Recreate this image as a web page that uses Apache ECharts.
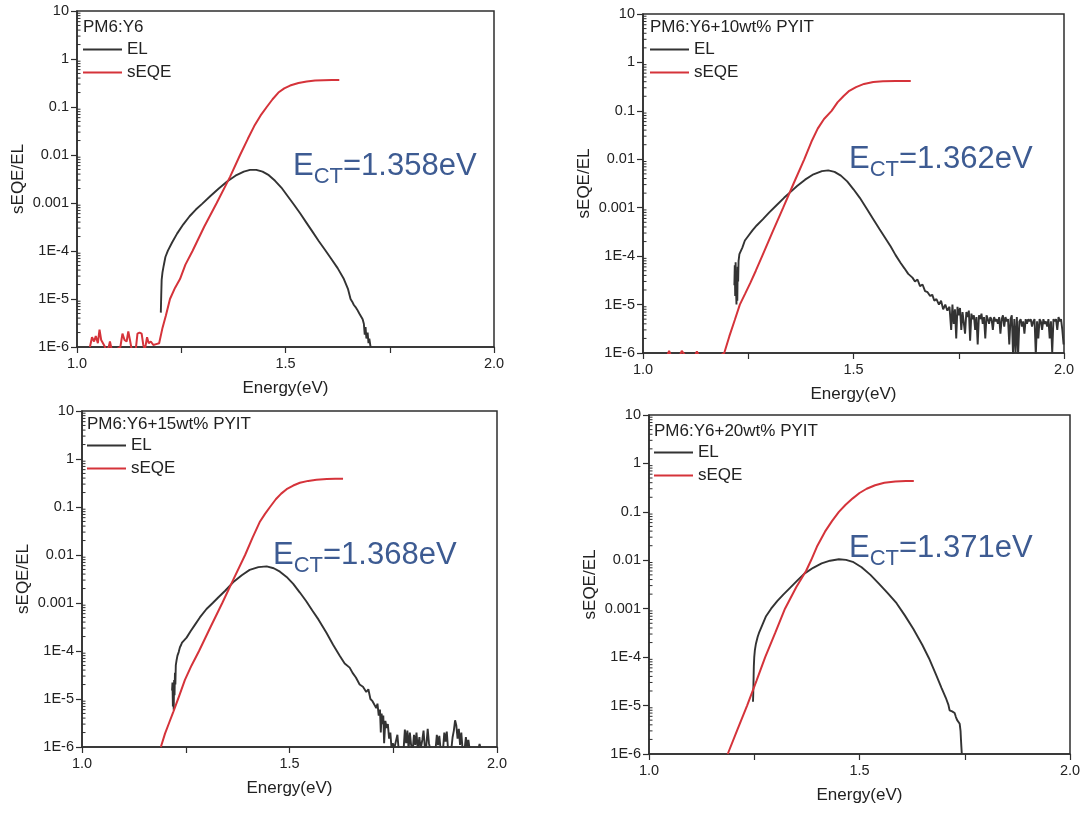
<!DOCTYPE html>
<html>
<head>
<meta charset="utf-8">
<script src="https://cdn.jsdelivr.net/npm/echarts@6/dist/echarts.min.js"></script>
<style>
html,body{margin:0;padding:0;background:#fff;}
#chart{width:1085px;height:813px;}
</style>
</head>
<body>
<div id="chart"></div>
<script>
// ---------------- DATA ----------------
const panelTitles = ['PM6:Y6', 'PM6:Y6+10wt% PYIT', 'PM6:Y6+15wt% PYIT', 'PM6:Y6+20wt% PYIT'];
const ectValues = ['1.358', '1.362', '1.368', '1.371'];
const seriesNames = ['EL', 'sEQE'];
const xTickLabels = ['1.0', '1.5', '2.0'];
const yTickLabels = ['1E-6', '1E-5', '1E-4', '0.001', '0.01', '0.1', '1', '10'];

// Panel 1: PM6:Y6  [energy (eV), value]
const EL_1 = [[1.201,5.2e-6],[1.202,1.2e-5],[1.203,2.5e-5],[1.205,3.6e-5],[1.208,5.0e-5],[1.212,7.5e-5],[1.218,1.02e-4],[1.228,1.5e-4],[1.240,2.3e-4],[1.255,3.6e-4],[1.270,5.3e-4],[1.285,7.3e-4],[1.300,9.6e-4],[1.320,1.4e-3],[1.340,2.0e-3],[1.360,2.8e-3],[1.380,3.7e-3],[1.400,4.5e-3],[1.415,4.9e-3],[1.430,4.9e-3],[1.445,4.5e-3],[1.460,3.8e-3],[1.475,2.9e-3],[1.490,2.1e-3],[1.505,1.4e-3],[1.520,9.3e-4],[1.535,6.1e-4],[1.550,3.9e-4],[1.565,2.5e-4],[1.580,1.6e-4],[1.595,1.05e-4],[1.610,6.8e-5],[1.625,4.4e-5],[1.640,2.6e-5],[1.650,1.6e-5],[1.656,1.0e-5],[1.660,8.8e-6],[1.664,7.5e-6],[1.668,6.8e-6],[1.672,6.0e-6],[1.677,5.0e-6],[1.681,4.6e-6],[1.685,3.8e-6],[1.688,3.0e-6],[1.690,1.8e-6],[1.692,2.6e-6],[1.694,1.5e-6],[1.697,2.0e-6],[1.699,1.2e-6],[1.701,1.5e-6],[1.704,1.0e-6]];
const SEQE_1 = [[1.031,1.0e-6],[1.036,1.6e-6],[1.041,1.3e-6],[1.045,1.7e-6],[1.050,1.2e-6],[1.054,2.3e-6],[1.058,1.4e-6],[1.062,1.5e-6],[1.066,1.05e-6],[1.071,0.8e-6],[1.076,1.0e-6],[1.079,1.3e-6],[1.083,0.9e-6],[1.095,0.9e-6],[1.104,1.0e-6],[1.109,1.9e-6],[1.114,1.4e-6],[1.119,1.3e-6],[1.123,2.1e-6],[1.127,1.4e-6],[1.131,0.9e-6],[1.141,0.9e-6],[1.145,1.9e-6],[1.150,2.0e-6],[1.155,1.9e-6],[1.159,1.1e-6],[1.163,0.9e-6],[1.168,1.6e-6],[1.172,1.2e-6],[1.177,1.3e-6],[1.183,1.1e-6],[1.190,1.15e-6],[1.197,1.2e-6],[1.205,2.5e-6],[1.213,4.5e-6],[1.223,1.0e-5],[1.235,1.7e-5],[1.247,2.6e-5],[1.260,5.2e-5],[1.277,1.0e-4],[1.305,3.2e-4],[1.335,1.0e-3],[1.367,3.5e-3],[1.391,1.0e-2],[1.410,2.2e-2],[1.425,4.0e-2],[1.440,6.6e-2],[1.455,0.10],[1.469,0.145],[1.483,0.20],[1.497,0.245],[1.511,0.28],[1.531,0.315],[1.551,0.34],[1.571,0.355],[1.591,0.362],[1.611,0.366],[1.629,0.365]];

// Panel 2: +10wt% PYIT
const EL_2 = [[1.217,2.5e-5],[1.218,6.5e-5],[1.219,1.5e-5],[1.220,7.5e-5],[1.221,2.0e-5],[1.222,1.0e-5],[1.223,5.0e-5],[1.224,1.2e-5],[1.225,6.0e-5],[1.226,3.0e-5],[1.227,8.0e-5],[1.229,1.1e-4],[1.232,1.2e-4],[1.236,1.5e-4],[1.242,2.1e-4],[1.250,2.6e-4],[1.260,3.4e-4],[1.270,4.3e-4],[1.285,5.8e-4],[1.300,8.0e-4],[1.316,1.1e-3],[1.335,1.6e-3],[1.350,2.1e-3],[1.366,2.8e-3],[1.385,3.8e-3],[1.405,4.9e-3],[1.425,5.7e-3],[1.440,5.9e-3],[1.455,5.5e-3],[1.470,4.6e-3],[1.485,3.5e-3],[1.500,2.4e-3],[1.515,1.6e-3],[1.530,1.0e-3],[1.547,5.8e-4],[1.562,3.6e-4],[1.575,2.4e-4],[1.588,1.6e-4],[1.600,1.05e-4],[1.612,7.2e-5],[1.621,5.6e-5],[1.630,4.3e-5],[1.640,3.6e-5],[1.646,3.0e-5],[1.652,3.3e-5],[1.658,2.4e-5],[1.664,2.6e-5],[1.670,1.9e-5],[1.676,1.8e-5],[1.682,1.5e-5],[1.687,1.6e-5],[1.692,1.2e-5],[1.697,1.3e-5],[1.703,1.0e-5],[1.708,1.2e-5],[1.713,8.0e-6],[1.718,1.0e-5],[1.723,7.5e-6],[1.728,9.0e-6],[1.732,3.0e-6],[1.735,1.0e-5],[1.738,4.0e-6],[1.741,8.0e-6],[1.744,2.0e-6],[1.747,9.0e-6],[1.750,6.0e-6],[1.753,8.5e-6],[1.756,3.0e-6],[1.759,7.0e-6],[1.762,6.5e-6],[1.765,2.5e-6],[1.768,7.0e-6],[1.771,5.5e-6],[1.774,7.5e-6],[1.777,1.8e-6],[1.780,6.5e-6],[1.783,5.0e-6],[1.786,6.0e-6],[1.789,3.0e-6],[1.792,5.5e-6],[1.795,1.5e-6],[1.798,6.0e-6],[1.801,5.0e-6],[1.804,6.5e-6],[1.807,4.0e-6],[1.810,5.5e-6],[1.813,2.0e-6],[1.816,6.0e-6],[1.819,5.0e-6],[1.822,4.0e-6],[1.825,5.5e-6],[1.828,5.0e-6],[1.831,3.0e-6],[1.834,5.5e-6],[1.837,4.5e-6],[1.840,5.0e-6],[1.843,4.0e-6],[1.846,5.5e-6],[1.849,2.5e-6],[1.852,5.0e-6],[1.855,6.0e-6],[1.858,3.5e-6],[1.861,5.5e-6],[1.864,4.5e-6],[1.867,5.0e-6],[1.870,1.5e-6],[1.873,5.0e-6],[1.876,6.0e-6],[1.879,0.9e-6],[1.882,5.0e-6],[1.885,1.0e-6],[1.888,5.5e-6],[1.891,0.9e-6],[1.894,4.5e-6],[1.897,5.0e-6],[1.900,3.5e-6],[1.903,4.5e-6],[1.906,2.5e-6],[1.909,5.0e-6],[1.912,4.0e-6],[1.915,5.0e-6],[1.918,4.5e-6],[1.921,5.0e-6],[1.924,3.5e-6],[1.927,4.5e-6],[1.930,5.0e-6],[1.933,0.9e-6],[1.936,4.5e-6],[1.939,2.0e-6],[1.942,5.0e-6],[1.945,4.5e-6],[1.948,3.0e-6],[1.951,5.0e-6],[1.954,4.0e-6],[1.957,4.5e-6],[1.960,3.5e-6],[1.963,5.0e-6],[1.966,2.0e-6],[1.969,4.5e-6],[1.972,1.0e-6],[1.975,5.0e-6],[1.978,4.5e-6],[1.981,5.0e-6],[1.984,3.0e-6],[1.987,5.5e-6],[1.990,4.5e-6],[1.993,5.0e-6],[1.996,3.0e-6],[1.999,1.5e-6]];
const SEQE_2 = [[1.058,0.9e-6],[1.062,1.1e-6],[1.066,0.9e-6],[1.088,0.9e-6],[1.092,1.1e-6],[1.096,1.12e-6],[1.100,0.9e-6],[1.124,0.9e-6],[1.128,1.08e-6],[1.132,0.9e-6],[1.185,0.9e-6],[1.193,1.0e-6],[1.205,2.2e-6],[1.218,4.8e-6],[1.230,1.0e-5],[1.243,1.7e-5],[1.255,2.8e-5],[1.268,5.0e-5],[1.283,1.0e-4],[1.308,3.2e-4],[1.333,1.0e-3],[1.358,3.2e-3],[1.383,1.0e-2],[1.400,2.3e-2],[1.415,4.3e-2],[1.430,6.8e-2],[1.448,0.10],[1.462,0.15],[1.476,0.20],[1.490,0.26],[1.506,0.31],[1.525,0.36],[1.547,0.395],[1.570,0.41],[1.600,0.415],[1.636,0.415]];

// Panel 3: +15wt% PYIT
const EL_3 = [[1.217,1.5e-5],[1.218,2.2e-5],[1.219,7.0e-6],[1.220,1.8e-5],[1.221,6.0e-6],[1.222,2.5e-5],[1.223,1.2e-5],[1.224,3.5e-5],[1.225,2.0e-5],[1.226,5.0e-5],[1.228,6.5e-5],[1.230,8.0e-5],[1.233,9.5e-5],[1.236,1.2e-4],[1.239,1.35e-4],[1.241,1.5e-4],[1.245,1.6e-4],[1.252,1.9e-4],[1.262,2.6e-4],[1.272,3.5e-4],[1.284,5.0e-4],[1.300,7.5e-4],[1.315,1.0e-3],[1.330,1.35e-3],[1.345,1.8e-3],[1.364,2.7e-3],[1.385,3.8e-3],[1.404,4.9e-3],[1.425,5.6e-3],[1.445,5.8e-3],[1.462,5.3e-3],[1.477,4.5e-3],[1.493,3.5e-3],[1.509,2.5e-3],[1.525,1.65e-3],[1.540,1.1e-3],[1.555,7.0e-4],[1.570,4.5e-4],[1.589,2.4e-4],[1.605,1.35e-4],[1.621,8.0e-5],[1.633,5.5e-5],[1.645,4.5e-5],[1.652,3.5e-5],[1.660,2.8e-5],[1.669,2.0e-5],[1.677,1.8e-5],[1.685,1.4e-5],[1.690,1.6e-5],[1.695,1.0e-5],[1.700,9.0e-6],[1.705,7.5e-6],[1.709,6.5e-6],[1.712,8.0e-6],[1.715,4.5e-6],[1.718,6.0e-6],[1.720,2.0e-6],[1.722,5.0e-6],[1.724,3.0e-6],[1.726,4.5e-6],[1.728,1.2e-6],[1.731,3.5e-6],[1.734,2.5e-6],[1.737,3.0e-6],[1.740,1.5e-6],[1.743,2.0e-6],[1.746,0.9e-6],[1.749,1.2e-6],[1.752,0.9e-6],[1.756,0.9e-6],[1.760,1.8e-6],[1.763,0.9e-6],[1.775,0.9e-6],[1.778,2.3e-6],[1.781,1.2e-6],[1.784,2.2e-6],[1.787,0.9e-6],[1.790,2.0e-6],[1.793,1.1e-6],[1.797,0.9e-6],[1.800,1.8e-6],[1.803,1.1e-6],[1.806,2.0e-6],[1.809,0.9e-6],[1.813,1.6e-6],[1.816,0.9e-6],[1.820,1.4e-6],[1.823,2.2e-6],[1.826,1.0e-6],[1.829,0.9e-6],[1.833,2.4e-6],[1.836,1.2e-6],[1.839,0.9e-6],[1.852,0.9e-6],[1.855,1.8e-6],[1.858,1.1e-6],[1.861,1.7e-6],[1.864,0.9e-6],[1.870,0.9e-6],[1.873,2.0e-6],[1.876,1.3e-6],[1.879,2.1e-6],[1.882,0.9e-6],[1.890,0.9e-6],[1.893,1.6e-6],[1.896,2.2e-6],[1.899,3.6e-6],[1.902,2.8e-6],[1.905,1.5e-6],[1.908,2.4e-6],[1.911,1.1e-6],[1.914,2.0e-6],[1.917,0.9e-6],[1.922,0.9e-6],[1.925,1.6e-6],[1.928,1.0e-6],[1.931,1.4e-6],[1.934,0.9e-6],[1.955,0.9e-6],[1.958,1.15e-6],[1.961,0.9e-6]];
const SEQE_3 = [[1.190,1.0e-6],[1.200,1.9e-6],[1.210,3.2e-6],[1.220,5.4e-6],[1.234,1.15e-5],[1.248,2.5e-5],[1.264,5.0e-5],[1.282,1.0e-4],[1.310,3.2e-4],[1.338,1.0e-3],[1.364,3.0e-3],[1.393,1.0e-2],[1.411,2.3e-2],[1.429,5.0e-2],[1.441,7.2e-2],[1.453,0.10],[1.467,0.145],[1.480,0.19],[1.493,0.235],[1.509,0.28],[1.525,0.32],[1.545,0.35],[1.565,0.37],[1.590,0.385],[1.610,0.39],[1.629,0.39]];

// Panel 4: +20wt% PYIT
const EL_4 = [[1.247,1.2e-5],[1.2475,1.6e-5],[1.248,2.5e-5],[1.2485,4.0e-5],[1.249,6.5e-5],[1.250,1.0e-4],[1.2515,1.4e-4],[1.254,1.9e-4],[1.258,2.6e-4],[1.262,3.3e-4],[1.270,4.8e-4],[1.278,7.0e-4],[1.290,1.0e-3],[1.305,1.45e-3],[1.319,1.95e-3],[1.335,2.7e-3],[1.352,3.8e-3],[1.369,5.3e-3],[1.390,7.0e-3],[1.410,8.6e-3],[1.430,9.8e-3],[1.451,1.05e-2],[1.468,1.02e-2],[1.484,9.3e-3],[1.505,7.2e-3],[1.526,5.0e-3],[1.546,3.3e-3],[1.567,2.1e-3],[1.588,1.3e-3],[1.608,7.2e-4],[1.628,3.8e-4],[1.649,1.8e-4],[1.665,9.5e-5],[1.682,4.3e-5],[1.695,2.3e-5],[1.705,1.45e-5],[1.711,1.05e-5],[1.714,8.0e-6],[1.717,8.5e-6],[1.720,7.6e-6],[1.723,8.3e-6],[1.726,7.0e-6],[1.729,5.8e-6],[1.732,5.0e-6],[1.735,4.8e-6],[1.738,4.2e-6],[1.740,3.0e-6],[1.741,2.0e-6],[1.742,1.4e-6],[1.743,1.0e-6]];
const SEQE_4 = [[1.187,1.0e-6],[1.210,3.2e-6],[1.233,1.0e-5],[1.255,3.2e-5],[1.276,1.0e-4],[1.300,3.2e-4],[1.323,1.0e-3],[1.350,2.8e-3],[1.373,6.0e-3],[1.385,1.0e-2],[1.400,2.0e-2],[1.418,3.9e-2],[1.435,6.5e-2],[1.451,0.10],[1.467,0.14],[1.484,0.19],[1.500,0.245],[1.517,0.30],[1.537,0.355],[1.559,0.40],[1.585,0.425],[1.610,0.435],[1.629,0.435]];

const elData = [EL_1, EL_2, EL_3, EL_4];
const seqeData = [SEQE_1, SEQE_2, SEQE_3, SEQE_4];

// ---------------- LAYOUT / STYLE ----------------
const FONT = '"Liberation Sans", Arial, sans-serif';
const AXIS_COLOR = '#2e2e2e';
const EL_COLOR = '#333333';
const SEQE_COLOR = '#d5333a';
const ECT_COLOR = '#3d5b92';
const grids = [
  {left: 77, top: 11, width: 417, height: 336},
  {left: 643, top: 14, width: 421, height: 339},
  {left: 82, top: 411, width: 415, height: 336},
  {left: 649, top: 415, width: 421, height: 339}
];
const textPos = [ // x, title center y, legend first item center y
  {x: 83, ty: 27, ly: 49},
  {x: 650, ty: 27, ly: 49},
  {x: 87, ty: 424, ly: 445},
  {x: 654, ty: 431, ly: 452}
];
const ectPos = [[293, 151], [849, 144], [273, 540], [849, 533]]; // left, top of the big "E"
const ECT_BIG = 31, ECT_SUB = 22, ECT_SUB_DY = 15;

// minor log tick positions (2..9 x 10^n)
const minorTickVals = [];
for (let n = -6; n <= 0; n++) for (let k = 2; k <= 9; k++) minorTickVals.push([1, k * Math.pow(10, n)]);

// text measurement for the E_CT annotation pieces
const mctx = document.createElement('canvas').getContext('2d');
function textW(t, size) { mctx.font = size + 'px "Liberation Sans", Arial, sans-serif'; return mctx.measureText(t).width; }

const ectGraphics = [];
ectValues.forEach((v, i) => {
  const x0 = ectPos[i][0], y0 = ectPos[i][1];
  const wE = textW('E', ECT_BIG), wCT = textW('CT', ECT_SUB);
  const common = {fill: ECT_COLOR, fontFamily: FONT};
  ectGraphics.push({type: 'text', left: x0, top: y0, silent: true,
    style: Object.assign({text: 'E', fontSize: ECT_BIG}, common)});
  ectGraphics.push({type: 'text', left: x0 + wE, top: y0 + ECT_SUB_DY, silent: true,
    style: Object.assign({text: 'CT', fontSize: ECT_SUB}, common)});
  ectGraphics.push({type: 'text', left: x0 + wE + wCT, top: y0, silent: true,
    style: Object.assign({text: '=' + v + 'eV', fontSize: ECT_BIG}, common)});
});

const option = {
  animation: false,
  backgroundColor: '#ffffff',
  textStyle: {fontFamily: FONT},
  grid: grids.map(g => Object.assign({show: true, borderColor: AXIS_COLOR, borderWidth: 1.5, backgroundColor: 'transparent'}, g)),
  xAxis: grids.map((g, i) => ({
    type: 'value', gridIndex: i, min: 1, max: 2, interval: 0.25,
    name: 'Energy(eV)', nameLocation: 'middle', nameGap: 33,
    nameTextStyle: {fontSize: 17, color: '#222', fontFamily: FONT},
    axisLine: {show: true, lineStyle: {color: AXIS_COLOR, width: 1.5}},
    axisTick: {show: true, inside: false, length: 6, lineStyle: {color: AXIS_COLOR, width: 1.2}},
    axisLabel: {
      margin: 9, fontSize: 14.5, color: '#222', fontFamily: FONT,
      formatter: v => {
        const idx = [1, 1.5, 2].findIndex(t => Math.abs(t - v) < 1e-9);
        return idx >= 0 ? xTickLabels[idx] : '';
      }
    },
    splitLine: {show: false}
  })),
  yAxis: grids.map((g, i) => ({
    type: 'log', logBase: 10, gridIndex: i, min: 1e-6, max: 10, interval: 1,
    name: 'sEQE/EL', nameLocation: 'middle', nameGap: 50,
    nameTextStyle: {fontSize: 17, color: '#222', fontFamily: FONT},
    axisLine: {show: true, lineStyle: {color: AXIS_COLOR, width: 1.5}},
    axisTick: {show: true, inside: false, length: 6, lineStyle: {color: AXIS_COLOR, width: 1.2}},
    axisLabel: {
      margin: 8, fontSize: 14.5, color: '#222', fontFamily: FONT,
      formatter: v => {
        const e = Math.round(Math.log10(v));
        return yTickLabels[e + 6] || '';
      }
    },
    splitLine: {show: false}
  })),
  title: panelTitles.map((t, i) => ({
    text: t, left: textPos[i].x, top: textPos[i].ty - 9, padding: 0,
    textStyle: {fontSize: 17, fontWeight: 'normal', color: '#222', fontFamily: FONT, lineHeight: 18}
  })),
  legend: textPos.map((p, i) => ({
    data: seriesNames.map(n => ({name: n, icon: 'rect'})),
    orient: 'vertical', left: p.x, top: p.ly - 8, padding: 0,
    itemWidth: 39, itemHeight: 2, itemGap: 6, selectedMode: false,
    textStyle: {fontSize: 17, color: '#222', fontFamily: FONT, lineHeight: 15}
  })),
  graphic: ectGraphics,
  series: []
};

grids.forEach((g, i) => {
  option.series.push({
    name: seriesNames[0], type: 'line', xAxisIndex: i, yAxisIndex: i,
    data: elData[i], showSymbol: false, symbol: 'none', clip: true,
    lineStyle: {color: EL_COLOR, width: 1.9}, itemStyle: {color: EL_COLOR}, z: 3
  });
  option.series.push({
    name: seriesNames[1], type: 'line', xAxisIndex: i, yAxisIndex: i,
    data: seqeData[i], showSymbol: false, symbol: 'none', clip: true,
    lineStyle: {color: SEQE_COLOR, width: 2}, itemStyle: {color: SEQE_COLOR}, z: 4
  });
  option.series.push({
    type: 'custom', xAxisIndex: i, yAxisIndex: i, silent: true, z: 5,
    data: minorTickVals,
    renderItem: (params, api) => {
      const p = api.coord([api.value(0), api.value(1)]);
      return {
        type: 'line',
        shape: {x1: p[0], y1: p[1], x2: p[0] + 3.5, y2: p[1]},
        style: {stroke: AXIS_COLOR, lineWidth: 1}
      };
    }
  });
});

const chart = echarts.init(document.getElementById('chart'), null, {renderer: 'canvas'});
chart.setOption(option);
</script>
</body>
</html>
